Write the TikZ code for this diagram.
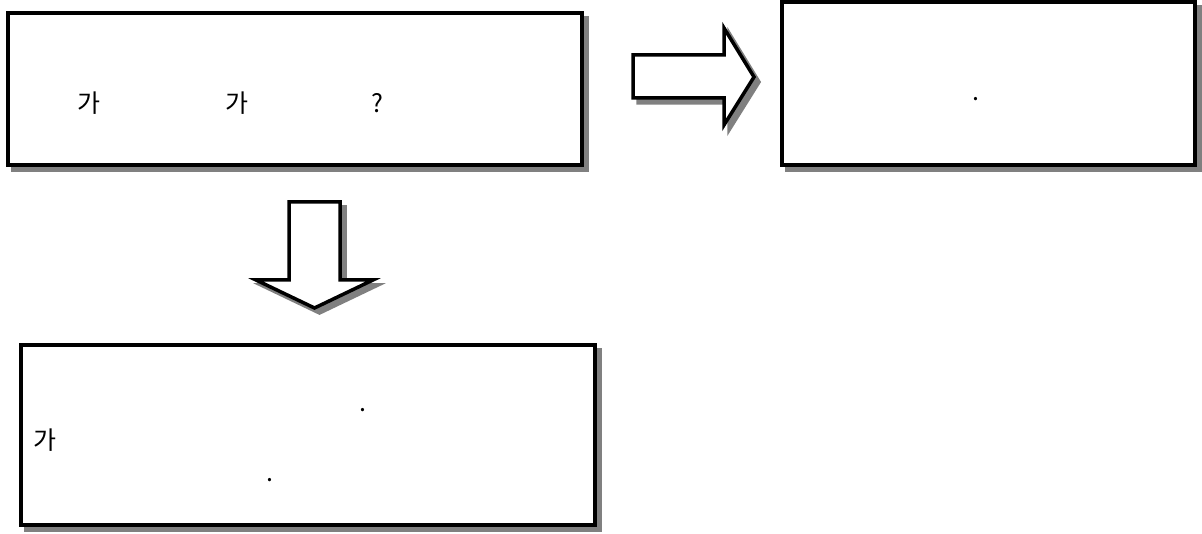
\documentclass[tikz,border=0pt]{standalone}
\usepackage{fontspec}
\setmainfont{Noto Sans CJK KR}
\usetikzlibrary{shadows}
\definecolor{shadowgray}{HTML}{808080}
\tikzset{
  sh/.style={drop shadow={shadow xshift=5pt, shadow yshift=-5pt, fill=shadowgray, draw=shadowgray, line width=3.5pt, opacity=1}},
  box/.style={sh, draw=black, fill=white, line width=3.5pt, inner sep=0pt, outer sep=0pt, rectangle},
  blockarrow/.style={sh, draw=black, fill=white, line width=3.5pt, line join=miter},
  lbl/.style={anchor=base, inner sep=0pt, font=\fontsize{25}{29}\selectfont}
}
\begin{document}
\begin{tikzpicture}[x=1pt,y=-1pt]
\useasboundingbox (0,0) rectangle (1202,534);
% boxes
\node[box, minimum width=574pt, minimum height=152pt] (b1) at (295,89) {};
\node[box, minimum width=413pt, minimum height=163pt] (b2) at (988.5,83.5) {};
\node[box, minimum width=574pt, minimum height=180pt] (b3) at (308,435) {};
% right block arrow
\draw[blockarrow] (633,55) -- (724,55) -- (724,28) -- (754,77) -- (724,125) -- (724,98) -- (633,98) -- cycle;
% down block arrow
\draw[blockarrow] (289,202) -- (340,202) -- (340,280) -- (373,280) -- (314.5,308) -- (256,280) -- (289,280) -- cycle;
% texts
\node[lbl] (t1) at (89,113) {가};
\node[lbl] (t2) at (237,113) {가};
\node[lbl] (t3) at (377,113) {?};
\node[lbl] (t4) at (976,101) {.};
\node[lbl] (t5) at (363,411) {.};
\node[lbl] (t6) at (45,449) {가};
\node[lbl] (t7) at (270,481) {.};
\end{tikzpicture}
\end{document}
